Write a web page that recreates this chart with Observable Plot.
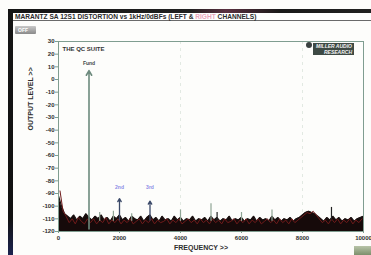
<!DOCTYPE html>
<html><head><meta charset="utf-8">
<script src="https://cdn.jsdelivr.net/npm/d3@7"></script>
<script src="https://cdn.jsdelivr.net/npm/@observablehq/plot@0.6"></script>
<style>
body{margin:0;background:#fff;}
#wrap{position:relative;width:371px;height:255px;overflow:hidden;font-family:"Liberation Sans",Arial,sans-serif;background:#fdfdfb;}
#chart{position:absolute;left:0;top:0;}
.ov{position:absolute;}
#bandTop{left:8px;top:9px;width:363px;height:4px;background:linear-gradient(90deg,#151515 0%,#202020 50%,#5a3040 60%,#1a1a1a 75%,#222 100%);}
#bandLeft{left:8px;top:9px;width:5px;height:246px;background:linear-gradient(180deg,#151515 0%,#111 85%,#1c2450 100%);}
#titleBar{left:13px;top:13px;width:358px;height:7px;background:#fff;border-bottom:1px solid #6a6a6a;font-size:6.6px;font-weight:bold;line-height:7px;color:#2a2a2a;padding-left:2px;white-space:nowrap;}
#titleBar span{color:#e8a6bd;}
#btn{left:15px;top:26px;width:21px;height:8px;background:linear-gradient(180deg,#c8c8c8,#8a8a8a);border-radius:1px;font-size:5px;line-height:8px;color:#fff;font-weight:bold;padding-left:3px;box-sizing:border-box;}
#btn2{left:354px;top:246px;width:17px;height:9px;background:linear-gradient(180deg,#b8c4a8,#7d8f6c);}
#logo{left:313px;top:43px;width:41px;height:12px;background:#3e4a44;color:#f2f2f2;font-size:5px;font-weight:bold;font-style:italic;line-height:6px;text-align:right;padding-right:2px;box-sizing:border-box;}
#logoDot{left:306px;top:42px;width:6px;height:6px;border-radius:50%;background:#3a4040;}
</style></head><body>
<div id="wrap">
  <div id="chart"></div>
  <div class="ov" id="bandTop"></div>
  <div class="ov" id="bandLeft"></div>
  <div class="ov" id="titleBar"></div>
  <div class="ov" id="btn">OFF</div>
  <div class="ov" id="btn2"></div>
  <div class="ov" id="logoDot"></div>
  <div class="ov" id="logo">MILLER AUDIO<br>RESEARCH</div>
</div>
<script>
// ---- text ----
const titleStart = "MARANTZ SA 12S1 DISTORTION vs 1kHz/0dBFs (LEFT & ";
const titleRight = "RIGHT";
const titleEnd = " CHANNELS)";
const suiteLabel = "THE QC SUITE";
const xLabel = "FREQUENCY >>";
const yLabel = "OUTPUT LEVEL >>";

// ---- axes ----
const yTicks = [30, 20, 10, 0, -10, -20, -30, -40, -50, -60, -70, -80, -90, -100, -110, -120];
const xTicks = [0, 2000, 4000, 6000, 8000, 10000];
const gridHz = [4000, 8000];

// ---- fundamental & harmonics ----
const fundHz = [1000];
const fundDb = [7];
const fundName = ["Fund"];
const harmonicName = ["2nd", "3rd"];
const harmonicHz = [2000, 3000];
const harmonicDb = [-94, -96];

// ---- spurious spikes above the noise ----
const spurHz = [1350, 1800, 2400, 4000, 5000, 5200, 6000, 7000, 8950];
const spurDb = [-105, -104, -106, -103, -98, -105, -105, -103, -101];
const spurChannel = ["L", "L", "L", "L", "L", "R", "L", "L", "R"];

// ---- noise floor: left channel (dense band top) ----
const leftNoiseHz = [0,100,200,300,400,500,600,700,800,900,1000,1100,1200,1300,1400,1500,1600,1700,1800,1900,2000,2100,2200,2300,2400,2500,2600,2700,2800,2900,3000,3100,3200,3300,3400,3500,3600,3700,3800,3900,4000,4100,4200,4300,4400,4500,4600,4700,4800,4900,5000,5100,5200,5300,5400,5500,5600,5700,5800,5900,6000,6100,6200,6300,6400,6500,6600,6700,6800,6900,7000,7100,7200,7300,7400,7500,7600,7700,7800,7900,8000,8100,8200,8300,8400,8500,8600,8700,8800,8900,9000,9100,9200,9300,9400,9500,9600,9700,9800,9900,10000];
const leftNoiseDb = [-92,-100,-106,-108,-110,-107,-111,-108,-110,-106,-109,-111,-108,-110,-107,-111,-109,-112,-108,-110,-107,-111,-109,-112,-108,-110,-111,-108,-112,-109,-107,-111,-109,-112,-108,-111,-110,-112,-108,-111,-109,-112,-110,-111,-108,-112,-110,-111,-109,-112,-108,-111,-109,-112,-110,-111,-108,-112,-110,-111,-109,-112,-110,-111,-108,-112,-109,-111,-110,-112,-108,-111,-109,-112,-110,-111,-109,-112,-110,-109,-107,-105,-104,-105,-106,-108,-110,-112,-109,-111,-108,-111,-109,-112,-110,-111,-109,-112,-110,-109,-108];
const noiseBottomDb = -120;

// ---- noise floor: right channel ----
const rightNoiseHz = [50,150,250,350,450,550,650,750,850,950,1050,1150,1250,1350,1450,1550,1650,1750,1850,1950,2050,2150,2250,2350,2450,2550,2650,2750,2850,2950,3050,3150,3250,3350,3450,3550,3650,3750,3850,3950,4050,4150,4250,4350,4450,4550,4650,4750,4850,4950,5050,5150,5250,5350,5450,5550,5650,5750,5850,5950,6050,6150,6250,6350,6450,6550,6650,6750,6850,6950,7050,7150,7250,7350,7450,7550,7650,7750,7850,7950,8050,8150,8250,8350,8450,8550,8650,8750,8850,8950,9050,9150,9250,9350,9450,9550,9650,9750,9850,9950];
const rightNoiseDb = [-88,-104,-108,-113,-110,-114,-109,-112,-114,-110,-113,-110,-114,-111,-113,-109,-114,-111,-113,-110,-114,-111,-113,-110,-114,-112,-110,-114,-111,-113,-110,-114,-111,-113,-112,-110,-114,-111,-113,-110,-114,-112,-110,-113,-111,-114,-110,-113,-111,-114,-110,-113,-111,-114,-110,-113,-112,-110,-114,-111,-113,-110,-114,-111,-113,-110,-114,-112,-110,-113,-111,-114,-110,-113,-111,-114,-110,-113,-111,-109,-107,-105,-106,-104,-107,-110,-113,-111,-114,-110,-113,-110,-114,-111,-113,-110,-114,-111,-113,-110];

// ---- build tables ----
const leftNoise = leftNoiseHz.map((hz, i) => ({hz, db: leftNoiseDb[i]}));
const rightNoise = rightNoiseHz.map((hz, i) => ({hz, db: rightNoiseDb[i]}));
const spurs = spurHz.map((hz, i) => ({hz, db: spurDb[i], ch: spurChannel[i]}));
const fund = fundHz.map((hz, i) => ({hz, db: fundDb[i], name: fundName[i]}));
const harmonics = harmonicHz.map((hz, i) => ({hz, db: harmonicDb[i], name: harmonicName[i]}));

const tb = document.getElementById("titleBar");
tb.append(titleStart);
const sp = document.createElement("span"); sp.textContent = titleRight; tb.append(sp);
tb.append(titleEnd);

const frameCol = "#7f9d90";
const chart = Plot.plot({
  width: 371, height: 255,
  marginLeft: 58, marginRight: 8, marginTop: 41, marginBottom: 24,
  style: {background: "transparent", fontFamily: "'Liberation Sans', Arial, sans-serif"},
  x: {domain: [0, 10000]},
  y: {domain: [-120, 30]},
  marks: [
    Plot.ruleX(gridHz, {stroke: "#e2e9e2", strokeDasharray: "3,4"}),
    Plot.areaY(leftNoise, {x: "hz", y1: noiseBottomDb, y2: "db", fill: "#160a0a", curve: "linear"}),
    Plot.line(leftNoise, {x: "hz", y: "db", stroke: "#1a1010", strokeWidth: 1.2}),
    Plot.line(rightNoise, {x: "hz", y: "db", stroke: "#6e1a1a", strokeWidth: 1}),
    Plot.ruleX(spurs, {x: "hz", y1: -112, y2: "db", stroke: d => d.ch === "L" ? "#8fa595" : "#222", strokeWidth: 1.2}),
    Plot.arrow(fund, {x1: "hz", x2: "hz", y1: -118, y2: "db", stroke: "#6d8a7d", strokeWidth: 1.6, headLength: 5}),
    Plot.text(fund, {x: "hz", y: 13, text: "name", fontSize: 5, fontWeight: "bold", fill: "#3e4a48"}),
    Plot.arrow(harmonics, {x1: "hz", x2: "hz", y1: -111, y2: "db", stroke: "#3a4868", strokeWidth: 1.3, headLength: 4}),
    Plot.text(harmonics, {x: "hz", y: -85, text: "name", fontSize: 5, fontWeight: "bold", fill: "#8c8ce6"}),
    Plot.frame({stroke: frameCol}),
    Plot.axisY({ticks: yTicks, tickFormat: d => String(d), tickSize: 3, tickPadding: 1, fontSize: 6, fontWeight: "bold", stroke: frameCol, fill: "#2d2d2d", label: null}),
    Plot.axisX({ticks: xTicks, tickFormat: d => String(d), tickSize: 2, tickPadding: 2, fontSize: 6, fontWeight: "bold", stroke: frameCol, fill: "#2d2d2d", label: null}),
    Plot.text([suiteLabel], {frameAnchor: "top-left", dx: 4, dy: 5, fontSize: 6, fontWeight: "bold", fill: "#333", textAnchor: "start"}),
    Plot.text([xLabel], {frameAnchor: "bottom", dx: -10, dy: 18, fontSize: 7, fontWeight: "bold", fill: "#2d2d2d"}),
    Plot.text([yLabel], {frameAnchor: "left", rotate: -90, dx: -28, dy: -6, fontSize: 7, fontWeight: "bold", fill: "#2d2d2d"})
  ]
});
document.getElementById("chart").append(chart);
</script>
</body></html>
